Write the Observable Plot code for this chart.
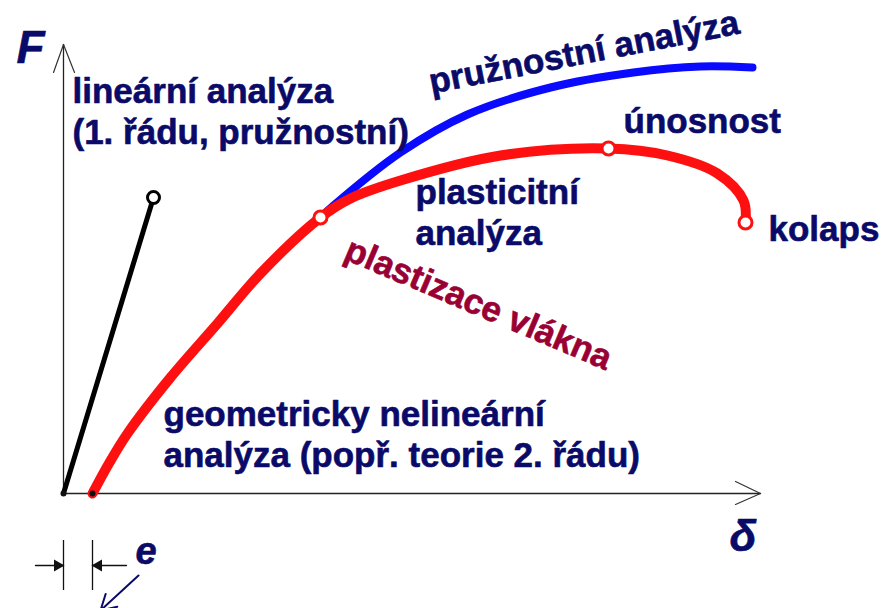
<!DOCTYPE html>
<html><head><meta charset="utf-8">
<script src="https://cdn.jsdelivr.net/npm/d3@7"></script>
<script src="https://cdn.jsdelivr.net/npm/@observablehq/plot@0.6"></script>
<style>html,body{margin:0;padding:0;background:#fff;overflow:hidden}</style>
</head><body><div id="chart"></div>
<script>
// Conceptual load–deflection diagram (δ horizontal, F vertical), arbitrary units
const linearX  = [0, 90];
const linearF  = [0, 296];
const plasticX = [29, 46, 64, 107, 154, 197, 257, 287, 337, 437, 545, 604, 654, 680, 682];
const plasticF = [0, 31, 60, 116, 170, 220, 276, 295, 313, 338, 345, 338, 320, 293, 271];
const elasticX = [257, 270, 337, 404, 487, 570, 637, 689];
const elasticF = [276, 288, 341, 379, 406, 421, 427, 426];
const pointX   = [257, 545, 682];      // plastic hinge, únosnost, kolaps
const pointF   = [276, 345, 271];
const eccentricity = 29;                // e

const navyLabels = [
  {x: 9,   y: 350, text: "lineární analýza\n(1. řádu, pružnostní)"},
  {x: 560, y: 361, text: "únosnost"},
  {x: 352, y: 249, text: "plasticitní\nanalýza"},
  {x: 705, y: 253, text: "kolaps"},
  {x: 100, y: 27,  text: "geometricky nelineární\nanalýza (popř. teorie 2. řádu)"}
];
const elasticLabel = [{x: 368, y: 400, text: "pružnostní analýza"}];
const fiberLabel   = [{x: 279, y: 235, text: "plastizace vlákna"}];
const axisLabels   = [{x: -47, y: 431, text: "F", size: 46}, {x: 666, y: -57, text: "δ", size: 44}, {x: 72, y: -70, text: "e", size: 38}];

const zip = (a, b) => a.map((v, i) => [v, b[i]]);
const navy = "#0a0a68", font = "Liberation Sans, Arial, sans-serif";

const chart = Plot.plot({
  width: 883, height: 608, margin: 0,
  x: {domain: [-63, 820], range: [0, 883], axis: null},
  y: {domain: [-115, 493], range: [608, 0], axis: null},
  style: {fontFamily: font, background: "#fff"},
  marks: [
    // axes
    Plot.line([[0, 0], [0, 449]], {stroke: "#222", strokeWidth: 1.3}),
    Plot.line([[0, 0], [697, 0]], {stroke: "#222", strokeWidth: 1.3}),
    Plot.line([[-10, 421], [0, 449], [11, 421]], {stroke: "#333", strokeWidth: 1.2}),
    Plot.line([[672, 12], [697, 0], [672, -11]], {stroke: "#333", strokeWidth: 1.2}),
    // eccentricity dimension
    Plot.ruleX([0, eccentricity], {y1: -97, y2: -47, stroke: "#111", strokeWidth: 1.3}),
    Plot.line([[-28, -72], [0, -72]], {stroke: "#111", strokeWidth: 1.3}),
    Plot.line([[eccentricity, -72], [eccentricity + 34, -72]], {stroke: "#111", strokeWidth: 1.3}),
    Plot.dot([[-6, -72]], {symbol: "triangle", rotate: 90, r: 4.5, fill: "#111"}),
    Plot.dot([[eccentricity + 6, -72]], {symbol: "triangle", rotate: -90, r: 4.5, fill: "#111"}),
    Plot.arrow([{x1: 75, y1: -82, x2: 37, y2: -117}], {x1: "x1", y1: "y1", x2: "x2", y2: "y2", stroke: navy, strokeWidth: 2, headLength: 14}),
    // curves
    Plot.line(zip(linearX, linearF), {stroke: "#000", strokeWidth: 5, strokeLinecap: "round"}),
    Plot.line(zip(elasticX, elasticF), {stroke: "#0a0aff", strokeWidth: 8, curve: "catmull-rom"}),
    Plot.line(zip(plasticX, plasticF), {stroke: "#ff1010", strokeWidth: 10, strokeLinecap: "round", curve: "catmull-rom"}),
    Plot.dot([[0, 0], [eccentricity, 0]], {r: 3, fill: "#111"}),
    Plot.dot(zip(pointX, pointF), {r: 6.5, fill: "#fff", stroke: "#ff1010", strokeWidth: 3}),
    Plot.dot([[linearX[1], linearF[1]]], {r: 6, fill: "#fff", stroke: "#000", strokeWidth: 3}),
    // labels
    Plot.text(navyLabels, {x: "x", y: "y", text: "text", textAnchor: "start", lineAnchor: "bottom", lineHeight: 1.15, fontSize: 35, fontWeight: "bold", fill: navy, stroke: navy, strokeWidth: 0.6}),
    Plot.text(elasticLabel, {x: "x", y: "y", text: "text", textAnchor: "start", lineAnchor: "bottom", rotate: -11, fontSize: 35, fontWeight: "bold", fill: navy, stroke: navy, strokeWidth: 0.6}),
    Plot.text(fiberLabel, {x: "x", y: "y", text: "text", textAnchor: "start", lineAnchor: "bottom", rotate: 23, fontSize: 35, fontWeight: "bold", fill: "#990033", stroke: "#990033", strokeWidth: 0.6}),
    ...axisLabels.map(d => Plot.text([d], {x: "x", y: "y", text: "text", textAnchor: "start", lineAnchor: "bottom", fontSize: d.size, fontWeight: "bold", fontStyle: "italic", fill: navy, stroke: navy, strokeWidth: 0.6}))
  ]
});
document.getElementById("chart").appendChild(chart);
</script>
</body></html>
